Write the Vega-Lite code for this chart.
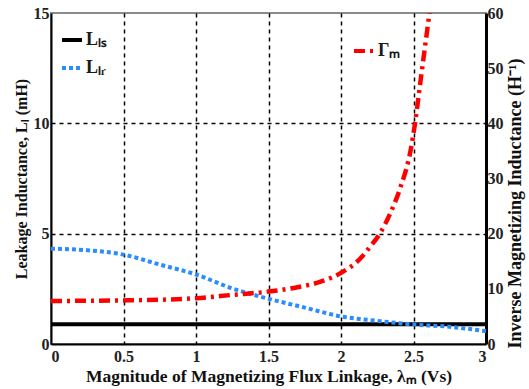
{
  "$schema": "https://vega.github.io/schema/vega-lite/v6.json",
  "width": 435,
  "height": 331,
  "autosize": "none",
  "padding": {"left": 51, "top": 13, "right": 43, "bottom": 45},
  "background": "white",
  "config": {
    "font": "Liberation Serif",
    "view": {"stroke": "#8a8a8a", "strokeWidth": 2},
    "axis": {
      "labelFont": "Liberation Serif",
      "labelFontSize": 16,
      "labelFontWeight": "bold",
      "labelColor": "#222222",
      "titleFont": "Liberation Serif",
      "titleFontWeight": "bold",
      "titleColor": "#111111",
      "domainColor": "#000000",
      "domainWidth": 2,
      "gridColor": "#000000",
      "gridDash": [4, 4],
      "gridWidth": 1.5,
      "ticks": false
    },
    "legend": {
      "labelFont": "Liberation Serif",
      "labelFontSize": 18,
      "labelFontWeight": "bold",
      "labelColor": "#1a1a1a",
      "symbolType": "stroke",
      "symbolStrokeWidth": 4,
      "symbolSize": 400,
      "rowPadding": 7,
      "labelOffset": 2,
      "padding": 0
    }
  },
  "datasets": {
    "curves": [
      {"lambda": 0, "value": 0.9, "series": "Lₗₛ"},
      {"lambda": 3, "value": 0.9, "series": "Lₗₛ"},
      {"lambda": 0, "value": 4.32, "series": "Lₗᵣ"},
      {"lambda": 0.25, "value": 4.25, "series": "Lₗᵣ"},
      {"lambda": 0.5, "value": 4.05, "series": "Lₗᵣ"},
      {"lambda": 0.75, "value": 3.6, "series": "Lₗᵣ"},
      {"lambda": 1, "value": 3.15, "series": "Lₗᵣ"},
      {"lambda": 1.25, "value": 2.52, "series": "Lₗᵣ"},
      {"lambda": 1.5, "value": 2.05, "series": "Lₗᵣ"},
      {"lambda": 1.75, "value": 1.65, "series": "Lₗᵣ"},
      {"lambda": 2, "value": 1.25, "series": "Lₗᵣ"},
      {"lambda": 2.25, "value": 1.05, "series": "Lₗᵣ"},
      {"lambda": 2.5, "value": 0.88, "series": "Lₗᵣ"},
      {"lambda": 2.75, "value": 0.78, "series": "Lₗᵣ"},
      {"lambda": 3, "value": 0.58, "series": "Lₗᵣ"},
      {"lambda": 0, "value": 7.8, "series": "Γₘ"},
      {"lambda": 0.5, "value": 7.9, "series": "Γₘ"},
      {"lambda": 1, "value": 8.3, "series": "Γₘ"},
      {"lambda": 1.25, "value": 8.9, "series": "Γₘ"},
      {"lambda": 1.5, "value": 9.5, "series": "Γₘ"},
      {"lambda": 1.7, "value": 10.3, "series": "Γₘ"},
      {"lambda": 1.85, "value": 11.2, "series": "Γₘ"},
      {"lambda": 2, "value": 12.9, "series": "Γₘ"},
      {"lambda": 2.13, "value": 15.4, "series": "Γₘ"},
      {"lambda": 2.2, "value": 17.6, "series": "Γₘ"},
      {"lambda": 2.27, "value": 20.1, "series": "Γₘ"},
      {"lambda": 2.34, "value": 23.7, "series": "Γₘ"},
      {"lambda": 2.41, "value": 28.4, "series": "Γₘ"},
      {"lambda": 2.48, "value": 35.1, "series": "Γₘ"},
      {"lambda": 2.51, "value": 39.9, "series": "Γₘ"},
      {"lambda": 2.55, "value": 48, "series": "Γₘ"},
      {"lambda": 2.6, "value": 58, "series": "Γₘ"},
      {"lambda": 2.63, "value": 64, "series": "Γₘ"}
    ]
  },
  "encoding": {
    "x": {
      "field": "lambda",
      "type": "quantitative",
      "scale": {"domain": [0, 3], "nice": false},
      "axis": {
        "title": "Magnitude of Magnetizing Flux Linkage, λₘ (Vs)",
        "titleFontSize": 17.5,
        "titlePadding": 3,
        "values": [0, 0.5, 1, 1.5, 2, 2.5, 3],
        "format": "~g",
        "labelPadding": 4,
        "grid": true,
        "gridOpacity": {"condition": {"test": "datum.value === 0 || datum.value === 3", "value": 0}, "value": 1}
      }
    }
  },
  "layer": [
    {
      "data": {"name": "curves"},
      "transform": [{"filter": "datum.series !== 'Γₘ'"}],
      "mark": {"type": "line", "strokeWidth": 4, "interpolate": "monotone"},
      "encoding": {
        "y": {
          "field": "value",
          "type": "quantitative",
          "scale": {"domain": [0, 15], "nice": false},
          "axis": {
            "title": "Leakage Inductance, Lₗ (mH)",
            "titleFontSize": 16,
            "titlePadding": 4,
            "values": [0, 5, 10, 15],
            "labelPadding": 2,
            "grid": true,
            "gridOpacity": {"condition": {"test": "datum.value === 0 || datum.value === 15", "value": 0}, "value": 1}
          }
        },
        "color": {
          "field": "series",
          "type": "nominal",
          "scale": {"domain": ["Lₗₛ", "Lₗᵣ"], "range": ["#000000", "#2a8cff"]},
          "legend": {"title": null, "orient": "none", "legendX": 9, "legendY": 15}
        },
        "strokeDash": {
          "field": "series",
          "type": "nominal",
          "scale": {"domain": ["Lₗₛ", "Lₗᵣ"], "range": [[1, 0], [4, 3]]},
          "legend": {"title": null, "orient": "none", "legendX": 9, "legendY": 15}
        }
      }
    },
    {
      "data": {"name": "curves"},
      "transform": [{"filter": "datum.series === 'Γₘ'"}],
      "mark": {"type": "line", "strokeWidth": 4.5, "interpolate": "monotone", "clip": true},
      "encoding": {
        "y": {
          "field": "value",
          "type": "quantitative",
          "scale": {"domain": [0, 60], "nice": false},
          "axis": {
            "orient": "right",
            "title": "Inverse Magnetizing Inductance (H⁻¹)",
            "titleFontSize": 18,
            "titleAngle": 270,
            "titleBaseline": "top",
            "titlePadding": 3,
            "titleY": 190,
            "values": [0, 10, 20, 30, 40, 50, 60],
            "labelPadding": 1,
            "domainWidth": 3,
            "grid": false
          }
        },
        "color": {
          "field": "series",
          "type": "nominal",
          "scale": {"domain": ["Γₘ"], "range": ["#ff0000"]},
          "legend": {"title": null, "orient": "none", "legendX": 301, "legendY": 26}
        },
        "strokeDash": {
          "field": "series",
          "type": "nominal",
          "scale": {"domain": ["Γₘ"], "range": [[11, 5, 3, 5]]},
          "legend": {"title": null, "orient": "none", "legendX": 301, "legendY": 26}
        }
      }
    }
  ],
  "resolve": {"scale": {"y": "independent", "color": "independent", "strokeDash": "independent"}}
}
